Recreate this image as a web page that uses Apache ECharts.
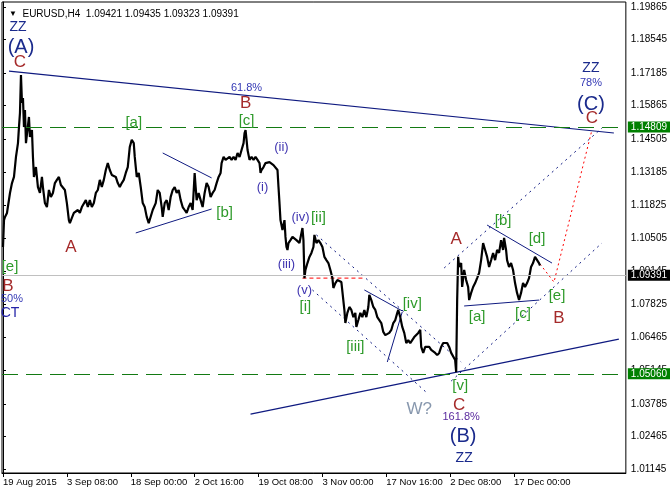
<!DOCTYPE html>
<html>
<head>
<meta charset="utf-8">
<script src="https://cdn.jsdelivr.net/npm/echarts@6/dist/echarts.min.js"></script>
<style>html,body{margin:0;padding:0;background:#fff}#c{width:670px;height:494px}</style>
</head>
<body>
<div id="c"></div>
<script>
// ---- data (bar index, price) ----
const tickBarsX = [0, 64, 128, 192, 256, 320, 384, 448, 512];
const tickLabelsX = ['19 Aug 2015', '3 Sep 08:00', '18 Sep 00:00', '2 Oct 16:00', '19 Oct 08:00', '3 Nov 00:00', '17 Nov 16:00', '2 Dec 08:00', '17 Dec 00:00'];
const tickPricesY = [1.19865, 1.18545, 1.17185, 1.15865, 1.14505, 1.13185, 1.11825, 1.10505, 1.09145, 1.07825, 1.06465, 1.05145, 1.03785, 1.02465, 1.01145];

const priceBars = [0,1,2,4,7,9,11,13,15,16,17,18,19,20,21,22,23,26,27,29,30,31,33,35,37,39,40,42,44,46,48,50,52,54,56,58,60,62,64,66,67,69,71,73,75,77,79,81,83,85,87,89,91,93,95,97,99,101,103,105,107,109,111,113,115,117,119,121,123,125,127,129,131,132,134,136,138,140,142,144,146,148,150,153,155,157,159,160,162,164,166,168,170,172,174,176,178,180,182,184,186,188,190,192,193,194,196,198,200,202,204,206,208,210,212,214,216,218,219,221,223,225,227,229,231,233,235,237,239,241,242,243,244,245,247,249,251,253,255,257,258,259,261,263,265,267,269,271,273,275,276,277,278,280,282,283,284,285,286,288,290,292,294,296,297,299,300,301,302,303,305,307,309,311,312,314,316,318,320,322,324,326,328,330,331,333,335,337,339,341,342,343,345,347,349,351,353,354,356,358,360,362,364,366,367,369,371,373,375,377,379,381,383,385,387,389,391,393,395,396,398,400,402,404,406,408,410,412,414,416,418,419,421,423,425,427,429,431,433,435,437,439,441,443,445,447,449,451,453,454,455,456,457,459,460,462,464,466,467,469,471,473,475,477,479,481,483,485,487,489,491,493,495,497,499,501,502,504,505,507,509,511,513,515,517,519,521,523,525,527,529,531,533,535,537,538];
const priceValues = [1.1014,1.1123,1.1136,1.1152,1.1233,1.1273,1.1298,1.1379,1.1435,1.1500,1.1557,1.1711,1.1598,1.1618,1.1500,1.1569,1.1435,1.1541,1.1460,1.1488,1.1379,1.1298,1.1338,1.1257,1.1233,1.1298,1.1257,1.1192,1.1176,1.1245,1.1217,1.1233,1.1273,1.1286,1.1298,1.1265,1.1257,1.1245,1.1192,1.1123,1.1111,1.1132,1.1152,1.1152,1.1164,1.1152,1.1176,1.1176,1.1204,1.1176,1.1204,1.1176,1.1192,1.1233,1.1245,1.1286,1.1257,1.1286,1.1326,1.1354,1.1326,1.1306,1.1314,1.1298,1.1273,1.1257,1.1273,1.1286,1.1314,1.1338,1.1419,1.1448,1.1435,1.1379,1.1298,1.1314,1.1257,1.1192,1.1176,1.1136,1.1111,1.1103,1.1164,1.1192,1.1245,1.1233,1.1176,1.1136,1.1192,1.1204,1.1164,1.1217,1.1245,1.1257,1.1233,1.1245,1.1204,1.1176,1.1164,1.1152,1.1176,1.1192,1.1164,1.1314,1.1257,1.1204,1.1233,1.1204,1.1176,1.1233,1.1273,1.1257,1.1217,1.1233,1.1245,1.1273,1.1298,1.1314,1.1354,1.1379,1.1367,1.1375,1.1379,1.1367,1.1379,1.1367,1.1395,1.1379,1.1407,1.1435,1.1476,1.1488,1.1448,1.1407,1.1367,1.1379,1.1367,1.1379,1.1367,1.1354,1.1314,1.1326,1.1338,1.1354,1.1354,1.1358,1.1354,1.1346,1.1338,1.1326,1.1257,1.1192,1.1123,1.1083,1.1123,1.1055,1.1014,1.1002,1.1030,1.1042,1.1055,1.1063,1.1042,1.1034,1.1030,1.1071,1.1091,1.1042,1.0888,1.0921,1.0949,1.0974,1.0990,1.1014,1.1063,1.1030,1.1042,1.1030,1.1014,1.0974,1.0961,1.0949,1.0921,1.0888,1.0848,1.0868,1.0880,1.0876,1.0872,1.0868,1.0759,1.0706,1.0747,1.0771,1.0759,1.0730,1.0747,1.0690,1.0718,1.0747,1.0730,1.0759,1.0730,1.0771,1.0820,1.0799,1.0771,1.0759,1.0730,1.0718,1.0706,1.0670,1.0657,1.0649,1.0666,1.0678,1.0706,1.0718,1.0747,1.0759,1.0730,1.0690,1.0666,1.0625,1.0637,1.0625,1.0637,1.0649,1.0657,1.0666,1.0678,1.0609,1.0585,1.0609,1.0617,1.0609,1.0597,1.0589,1.0585,1.0576,1.0585,1.0609,1.0625,1.0629,1.0625,1.0609,1.0585,1.0589,1.0556,1.0507,1.0799,1.0974,1.0933,1.0949,1.0852,1.0921,1.0880,1.0852,1.0799,1.0828,1.0852,1.0868,1.0888,1.0909,1.0961,1.1030,1.1002,1.0974,1.0933,1.0961,1.0990,1.0961,1.1002,1.0990,1.1042,1.1002,1.1051,1.1002,1.0961,1.0933,1.0949,1.0921,1.0868,1.0828,1.0799,1.0828,1.0868,1.0852,1.0868,1.0888,1.0933,1.0949,1.0974,1.0982,1.0949,1.0939];

const levelHigh = 1.14809;
const levelLow = 1.05060;
const bidPrice = 1.09391;
const headerText = 'EURUSD,H4  1.09421 1.09435 1.09323 1.09391';

// trend lines [bar, price]
const lineTopAC = [[6, 1.1727], [612, 1.1476]];
const lineBottom = [[248, 1.0337], [617, 1.0641]];
const triUpper = [[160, 1.1395], [209, 1.1294]];
const triLower = [[133, 1.1071], [209, 1.1168]];
const lineIV = [[362, 1.0840], [400, 1.0755]];
const lineIVb = [[385, 1.0548], [400, 1.0751]];
const lineBD = [[485, 1.1103], [550, 1.0949]];
const lineAC2 = [[462, 1.0775], [537, 1.0799]];
const chanUpper = [[314, 1.1063], [459, 1.0548]];
const chanLower = [[310, 1.0840], [425, 1.0422]];
const chanRightUp = [[442, 1.0929], [600, 1.1496]];
const chanRightLow = [[449, 1.0471], [600, 1.1030]];
const redLevel = [[300, 1.0888], [362, 1.0888]];
const redPath = [[538, 1.0945], [552, 1.0872], [590, 1.1488]];

// wave labels [bar, price, text]
const labelsPrimary = [[18, 1.18244, '(A)'], [461, 1.02483, '(B)'], [589, 1.15935, '(C)']];
const labelsZZ = [[15, 1.19055, 'ZZ'], [462, 1.01591, 'ZZ'], [589, 1.17393, 'ZZ']];
const labelsIntermediate = [[17, 1.17636, 'C'], [243, 1.15975, 'B'], [68, 1.10141, 'A'], [457, 1.03739, 'C'], [454, 1.10465, 'A'], [557, 1.07264, 'B'], [590, 1.15367, 'C'], [5, 1.08560, 'B']];
const labelsMinor = [[244, 1.15246, '[c]'], [131, 1.15165, '[a]'], [222, 1.11518, '[b]'], [316, 1.11316, '[ii]'], [303, 1.07709, '[i]'], [410, 1.07831, '[iv]'], [353, 1.06089, '[iii]'], [458, 1.04508, '[v]'], [501, 1.11194, '[b]'], [535, 1.10465, '[d]'], [555, 1.08155, '[e]'], [475, 1.07304, '[a]'], [521, 1.07426, '[c]'], [7, 1.09331, '[e]']];
const labelsMinute = [[279, 1.14192, '(ii)'], [260, 1.12572, '(i)'], [298, 1.11356, '(iv)'], [284, 1.09452, '(iii)'], [302, 1.08398, '(v)']];
const labelsRatio = [[244, 1.16583, '61.8%'], [589, 1.16786, '78%'], [9, 1.08033, '50%']];
const labelsRatio2 = [[459, 1.03252, '161.8%']];
const labelsCT = [[7, 1.07466, 'CT']];
const labelsW = [[417, 1.03577, 'W?']];

// ---- chart ----
const FONT = '"Liberation Sans", Arial, sans-serif';
const chart = echarts.init(document.getElementById('c'), null, {renderer: 'canvas'});

function seg(data, color, type, width) {
  return {type: 'line', data: data, symbol: 'none', silent: true, animation: false, z: 3,
    lineStyle: {color: color, type: type, width: width || 1}};
}
function texts(data, color, size) {
  return {type: 'scatter', data: data, symbolSize: 1, silent: true, animation: false, clip: false, z: 5,
    itemStyle: {color: 'rgba(0,0,0,0)', opacity: 1},
    label: {show: true, position: 'inside', formatter: p => p.data[2], color: color, opacity: 1,
      fontSize: size, fontFamily: FONT}};
}
function level(v, lineColor, lineType, boxColor) {
  return {yAxis: v, lineStyle: {color: lineColor, type: lineType, width: 1},
    label: {show: true, position: 'end', distance: 2, formatter: v.toFixed(5), color: '#fff',
      backgroundColor: boxColor, padding: [1, 3, 0, 3], fontSize: 10, fontFamily: FONT}};
}

const NAVY = '#0f1a80';
const option = {
  animation: false,
  title: {text: '{t|▼}  ' + headerText, left: 4, top: 4,
    textStyle: {fontSize: 10, fontWeight: 'normal', color: '#000', fontFamily: FONT,
      rich: {t: {fontSize: 8, color: '#000'}}}},
  grid: {left: 2, top: 2, width: 625, height: 471, show: true, borderColor: '#000', borderWidth: 1},
  xAxis: {type: 'value', min: -1, max: 624,
    axisLine: {show: true, lineStyle: {color: '#000'}},
    axisTick: {show: true, customValues: tickBarsX, length: 4, lineStyle: {color: '#000'}},
    axisLabel: {customValues: tickBarsX, formatter: v => tickLabelsX[tickBarsX.indexOf(v)] || '',
      align: 'left', margin: 4, color: '#000', fontSize: 9.5, fontFamily: FONT},
    splitLine: {show: false}},
  yAxis: {type: 'value', position: 'right', min: 1.009833, max: 1.200676, scale: true,
    axisLine: {show: true, lineStyle: {color: '#000'}},
    axisTick: {show: true, customValues: tickPricesY, length: 3, lineStyle: {color: '#000'}},
    axisLabel: {customValues: tickPricesY, formatter: v => v.toFixed(5), margin: 5,
      color: '#000', fontSize: 10, fontFamily: FONT},
    splitLine: {show: false}},
  series: [
    {type: 'line', data: [], symbol: 'none', silent: true, z: 1,
      markLine: {silent: true, symbol: ['none', 'none'], animation: false,
        data: [level(bidPrice, '#c0c0c0', 'solid', '#000')]}},
    {type: 'line', data: [], symbol: 'none', silent: true, z: 2,
      markLine: {silent: true, symbol: ['none', 'none'], animation: false,
        data: [level(levelHigh, '#137a13', [16, 8], '#008000'), level(levelLow, '#137a13', [16, 8], '#008000')]}},
    {type: 'line', data: priceBars.map((b, i) => [b, priceValues[i]]), symbol: 'none', silent: true,
      animation: false, z: 4, lineStyle: {color: '#000', width: 2.2}},
    seg(lineTopAC, NAVY, 'solid', 1.2),
    seg(lineBottom, NAVY, 'solid', 1.2),
    seg(triUpper, NAVY, 'solid', 1),
    seg(triLower, NAVY, 'solid', 1),
    seg(lineIV, NAVY, 'solid', 1),
    seg(lineIVb, NAVY, 'solid', 1),
    seg(lineBD, NAVY, 'solid', 1),
    seg(lineAC2, NAVY, 'solid', 1),
    seg(chanUpper, NAVY, [2, 4], 1),
    seg(chanLower, NAVY, [2, 4], 1),
    seg(chanRightUp, NAVY, [2, 4], 1),
    seg(chanRightLow, NAVY, [2, 4], 1),
    seg(redLevel, '#ff0000', [4, 3], 1),
    seg(redPath, '#ff0000', [2, 3], 1),
    texts(labelsPrimary, '#1a2a8c', 20),
    texts(labelsZZ, '#1a2a8c', 14),
    texts(labelsIntermediate, '#a52a2a', 17),
    texts(labelsMinor, '#2e9a2a', 15),
    texts(labelsMinute, '#3f34b0', 13),
    texts(labelsRatio, '#3338b5', 11),
    texts(labelsRatio2, '#5a2a9e', 11),
    texts(labelsCT, '#2424a8', 14),
    texts(labelsW, '#8898ae', 17)
  ]
};
chart.setOption(option);
</script>
</body>
</html>
